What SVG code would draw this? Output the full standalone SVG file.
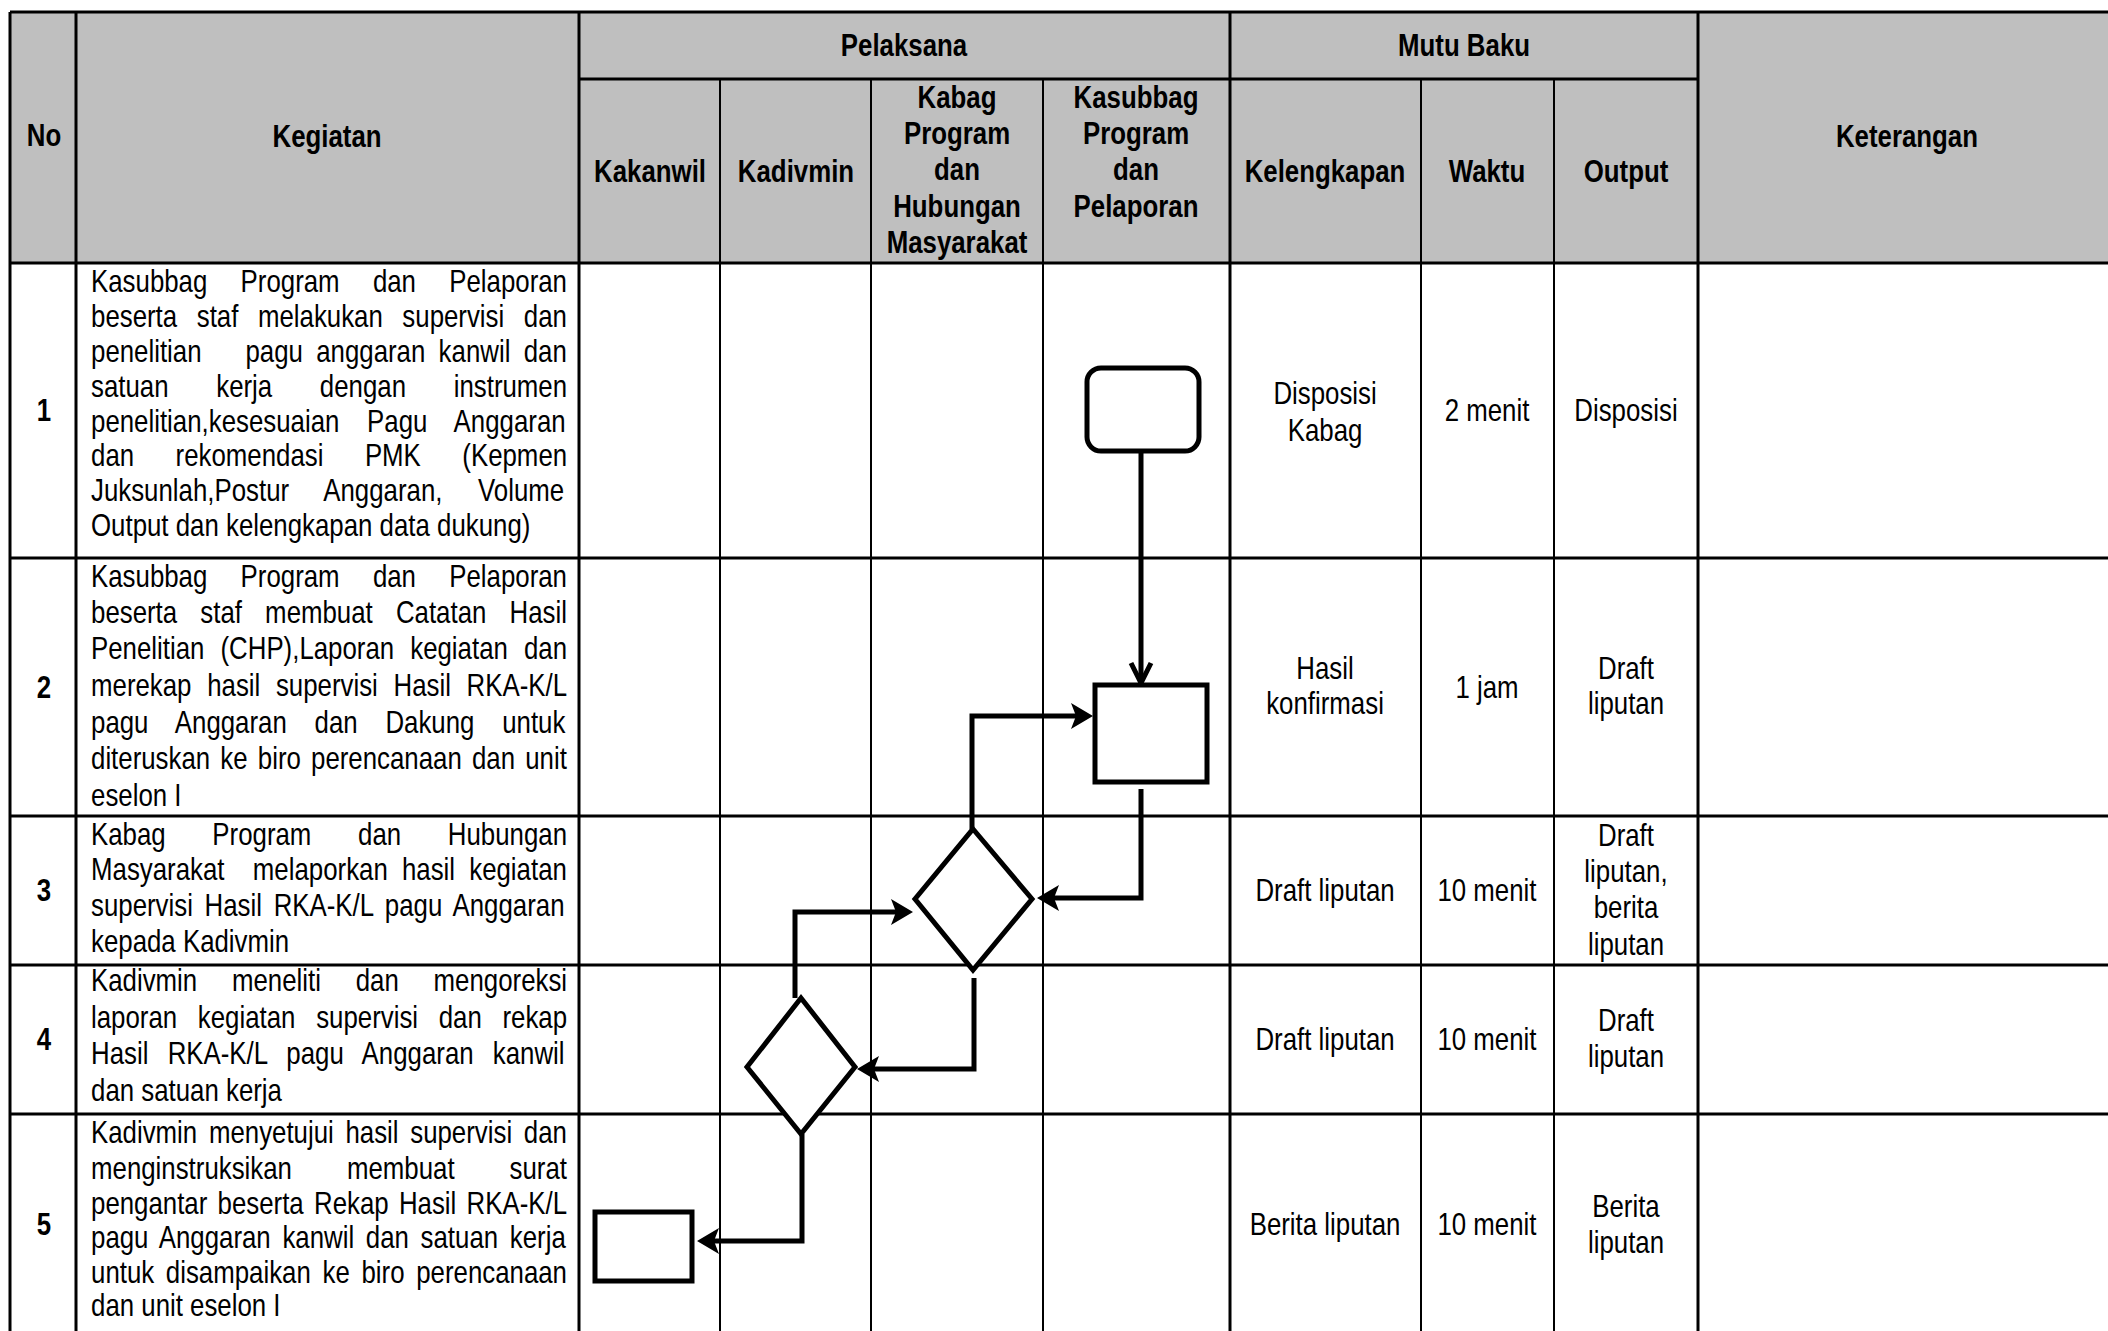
<svg xmlns="http://www.w3.org/2000/svg" width="2108" height="1331" viewBox="0 0 2108 1331">
<style>
.hd{font-family:"Liberation Sans",Arial,sans-serif;font-weight:bold;font-size:31.5px;text-anchor:middle;fill:#000}
.tx{font-family:"Liberation Sans",Arial,sans-serif;font-size:31.5px;fill:#000}
.ct{font-family:"Liberation Sans",Arial,sans-serif;font-size:31.5px;text-anchor:middle;fill:#000}
.thick{stroke:#000;stroke-width:3;fill:none}
.thin{stroke:#000;stroke-width:2;fill:none}
.shape{fill:#fff;stroke:#000;stroke-width:5}
.conn{fill:none;stroke:#000;stroke-width:5}
</style>
<defs>
<marker id="arrF" markerUnits="userSpaceOnUse" viewBox="0 0 22 26" markerWidth="22" markerHeight="26" refX="12" refY="13" orient="auto">
<path d="M0,0 L22,13 L0,26 L5,13 z" fill="#000"/>
</marker>
<marker id="arrV" markerUnits="userSpaceOnUse" viewBox="0 0 26 26" markerWidth="26" markerHeight="26" refX="22" refY="13" orient="auto">
<path d="M2,3 L22,13 L2,23" fill="none" stroke="#000" stroke-width="5"/>
</marker>
</defs>
<rect width="2108" height="1331" fill="#fff"/>
<g id="table">
<rect x="10" y="12" width="2098" height="251" fill="#bfbfbf"/>
<path class="thick" d="M10,12 H2108 M579,79 H1698 M10,263 H2108 M10,558 H2108 M10,816 H2108 M10,965 H2108 M10,1114 H2108"/>
<path class="thick" d="M10,12 V1331 M76,12 V1331 M579,12 V1331 M1230,12 V1331 M1698,12 V1331"/>
<path class="thin" d="M720,79 V1331 M871,79 V1331 M1043,79 V1331 M1421,79 V1331 M1554,79 V1331"/>
</g>
<g id="header-text" transform="scale(0.82 1)">
<text class="hd" x="53.7" y="146">No</text>
<text class="hd" x="398.8" y="147">Kegiatan</text>
<text class="hd" x="1102.4" y="56">Pelaksana</text>
<text class="hd" x="1785.4" y="56">Mutu Baku</text>
<text class="hd" x="2325.6" y="147">Keterangan</text>
<text class="hd" x="792.7" y="182">Kakanwil</text>
<text class="hd" x="970.7" y="182">Kadivmin</text>
<text class="hd" x="1167.1" y="108">Kabag</text>
<text class="hd" x="1167.1" y="144">Program</text>
<text class="hd" x="1167.1" y="180">dan</text>
<text class="hd" x="1167.1" y="217">Hubungan</text>
<text class="hd" x="1167.1" y="253">Masyarakat</text>
<text class="hd" x="1385.4" y="108">Kasubbag</text>
<text class="hd" x="1385.4" y="144">Program</text>
<text class="hd" x="1385.4" y="180">dan</text>
<text class="hd" x="1385.4" y="217">Pelaporan</text>
<text class="hd" x="1615.9" y="182">Kelengkapan</text>
<text class="hd" x="1813.4" y="182">Waktu</text>
<text class="hd" x="1982.9" y="182">Output</text>
</g>
<g id="row-numbers" transform="scale(0.82 1)">
<text class="hd" x="53.7" y="421">1</text>
<text class="hd" x="53.7" y="698">2</text>
<text class="hd" x="53.7" y="901">3</text>
<text class="hd" x="53.7" y="1050">4</text>
<text class="hd" x="53.7" y="1235">5</text>
</g>
<g id="kegiatan-text" transform="scale(0.82 1)">
<text class="tx" x="111" y="292" word-spacing="31.83">Kasubbag Program dan Pelaporan</text>
<text class="tx" x="111" y="327" word-spacing="15.12">beserta staf melakukan supervisi dan</text>
<text class="tx" y="362"><tspan x="111">penelitian</tspan><tspan x="299.4">pagu</tspan><tspan x="385.6">anggaran</tspan><tspan x="534.9">kanwil</tspan><tspan x="638.7">dan</tspan></text>
<text class="tx" x="111" y="397" word-spacing="49.39">satuan kerja dengan instrumen</text>
<text class="tx" x="111" y="432" word-spacing="25">penelitian,kesesuaian Pagu Anggaran</text>
<text class="tx" x="111" y="466" word-spacing="41.83">dan rekomendasi PMK (Kepmen</text>
<text class="tx" x="111" y="501" word-spacing="34.63">Juksunlah,Postur Anggaran, Volume</text>
<text class="tx" x="111" y="536">Output dan kelengkapan data dukung)</text>

<text class="tx" x="111" y="587" word-spacing="31.83">Kasubbag Program dan Pelaporan</text>
<text class="tx" x="111" y="623" word-spacing="19.51">beserta staf membuat Catatan Hasil</text>
<text class="tx" x="111" y="659" word-spacing="10.85">Penelitian (CHP),Laporan kegiatan dan</text>
<text class="tx" x="111" y="696" word-spacing="10.37">merekap hasil supervisi Hasil RKA-K/L</text>
<text class="tx" x="111" y="733" word-spacing="25.12">pagu Anggaran dan Dakung untuk</text>
<text class="tx" x="111" y="769" word-spacing="3.66">diteruskan ke biro perencanaan dan unit</text>
<text class="tx" x="111" y="806">eselon I</text>

<text class="tx" x="111" y="845" word-spacing="48.17">Kabag Program dan Hubungan</text>
<text class="tx" x="111" y="880" word-spacing="8.54" xml:space="preserve">Masyarakat  melaporkan hasil kegiatan</text>
<text class="tx" x="111" y="916" word-spacing="5.49">supervisi Hasil RKA-K/L pagu Anggaran</text>
<text class="tx" x="111" y="952">kepada Kadivmin</text>

<text class="tx" x="111" y="991" word-spacing="33.66">Kadivmin meneliti dan mengoreksi</text>
<text class="tx" x="111" y="1028" word-spacing="16.46">laporan kegiatan supervisi dan rekap</text>
<text class="tx" x="111" y="1064" word-spacing="14.7">Hasil RKA-K/L pagu Anggaran kanwil</text>
<text class="tx" x="111" y="1101">dan satuan kerja</text>

<text class="tx" x="111" y="1143" word-spacing="5.49">Kadivmin menyetujui hasil supervisi dan</text>
<text class="tx" x="111" y="1179" word-spacing="58.29">menginstruksikan membuat surat</text>
<text class="tx" x="111" y="1214" word-spacing="3.78">pengantar beserta Rekap Hasil RKA-K/L</text>
<text class="tx" x="111" y="1248" word-spacing="5.49">pagu Anggaran kanwil dan satuan kerja</text>
<text class="tx" x="111" y="1283" word-spacing="5.49">untuk disampaikan ke biro perencanaan</text>
<text class="tx" x="111" y="1316">dan unit eselon I</text>
</g>
<g id="mutu-baku-text" transform="scale(0.82 1)">
<text class="ct" x="1615.9" y="404">Disposisi</text>
<text class="ct" x="1615.9" y="441">Kabag</text>
<text class="ct" x="1813.4" y="421">2 menit</text>
<text class="ct" x="1982.9" y="421">Disposisi</text>

<text class="ct" x="1615.9" y="679">Hasil</text>
<text class="ct" x="1615.9" y="714">konfirmasi</text>
<text class="ct" x="1813.4" y="698">1 jam</text>
<text class="ct" x="1982.9" y="679">Draft</text>
<text class="ct" x="1982.9" y="714">liputan</text>

<text class="ct" x="1615.9" y="901">Draft liputan</text>
<text class="ct" x="1813.4" y="901">10 menit</text>
<text class="ct" x="1982.9" y="846">Draft</text>
<text class="ct" x="1982.9" y="882">liputan,</text>
<text class="ct" x="1982.9" y="918">berita</text>
<text class="ct" x="1982.9" y="955">liputan</text>

<text class="ct" x="1615.9" y="1050">Draft liputan</text>
<text class="ct" x="1813.4" y="1050">10 menit</text>
<text class="ct" x="1982.9" y="1031">Draft</text>
<text class="ct" x="1982.9" y="1067">liputan</text>

<text class="ct" x="1615.9" y="1235">Berita liputan</text>
<text class="ct" x="1813.4" y="1235">10 menit</text>
<text class="ct" x="1982.9" y="1217">Berita</text>
<text class="ct" x="1982.9" y="1253">liputan</text>
</g>
<g id="connectors">
<path class="conn" d="M1141,452 V683" marker-end="url(#arrV)"/>
<path class="conn" d="M1141,789 V898 H1047" marker-end="url(#arrF)"/>
<path class="conn" d="M972,829 V716 H1083" marker-end="url(#arrF)"/>
<path class="conn" d="M974,978 V1069 H867" marker-end="url(#arrF)"/>
<path class="conn" d="M795,998 V912 H903" marker-end="url(#arrF)"/>
<path class="conn" d="M802,1134 V1241 H707" marker-end="url(#arrF)"/>
</g>
<g id="node-start">
<rect class="shape" x="1087" y="368" width="112" height="83" rx="14"/>
</g>
<g id="node-step2">
<rect class="shape" x="1095" y="685" width="112" height="97"/>
</g>
<g id="node-decision3">
<polygon class="shape" points="973,829 1032,899 973,970 915,899"/>
</g>
<g id="node-decision4">
<polygon class="shape" points="801,998 855,1067 801,1134 747,1067"/>
</g>
<g id="node-end">
<rect class="shape" x="595" y="1212" width="97" height="69"/>
</g>
</svg>
